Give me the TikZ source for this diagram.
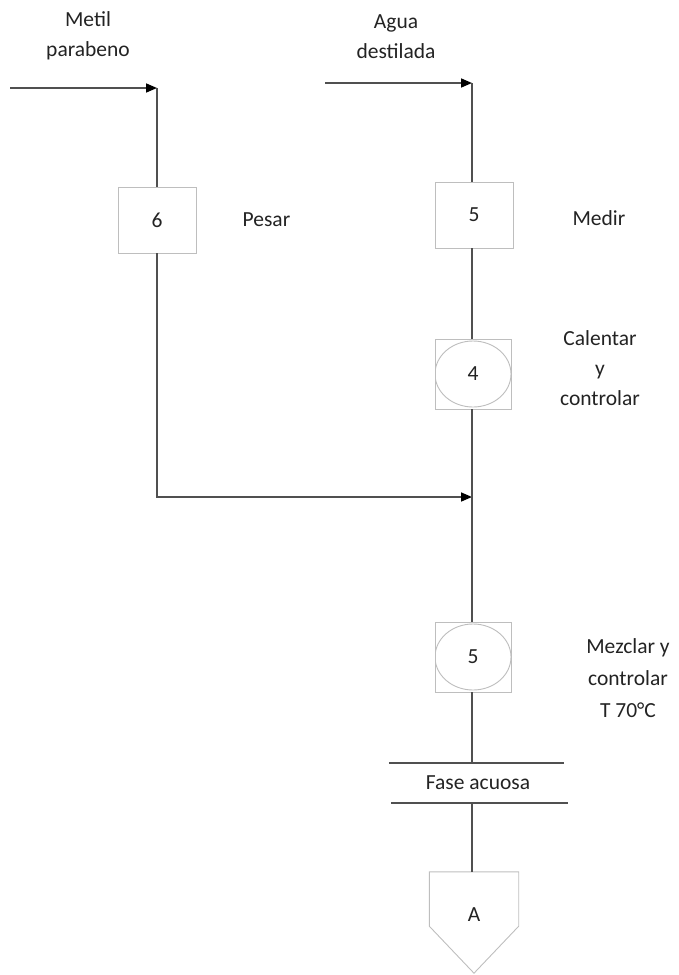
\documentclass[tikz,border=0pt]{standalone}
\usepackage{fontspec}
\setmainfont{Carlito}
\usetikzlibrary{arrows.meta,positioning,calc}
\definecolor{linegray}{RGB}{80,80,80}
\definecolor{boxgray}{RGB}{190,190,190}
\definecolor{txtgray}{RGB}{35,35,35}
\tikzset{
  opbox/.style={rectangle, draw=boxgray, line width=0.9pt, fill=white,
    minimum width=78pt, minimum height=66pt, inner sep=0pt,
    font=\fontsize{21.5}{30}\selectfont\color{txtgray}},
  ctrlbox/.style={opbox, minimum width=76pt, minimum height=70pt,
    path picture={\draw[boxgray, line width=0.9pt]
      (path picture bounding box.center) ellipse (38pt and 33pt);}},
  tank/.style={rectangle, minimum width=89pt, minimum height=54pt, inner sep=0pt},
  phase/.style={rectangle, minimum width=177pt, minimum height=40pt, inner sep=0pt,
    font=\fontsize{21.5}{30}\selectfont\color{txtgray}},
  lbl/.style={align=center, inner sep=0pt,
    font=\fontsize{21.5}{30}\selectfont\color{txtgray}},
  flow/.style={line width=1.6pt, color=linegray},
  arr/.style={flow, -{Triangle[length=11pt, width=9pt, color=black]}},
  edge/.style={line width=0.9pt, color=boxgray}
}
\begin{document}
\begin{tikzpicture}[x=1pt, y=-1pt]
\useasboundingbox (0,0) rectangle (678,975);

%% -- inputs ---------------------------------------------------------
\node[lbl] (metil) at (88,36) {Metil\\parabeno};
\node[lbl] (agua)  at (396,37) {Agua\\destilada};
\coordinate (metilin)     at (10,88);
\coordinate (metilcorner) at (157,88);
\coordinate (aguain)      at (325,83);
\coordinate (aguacorner)  at (472,83);

%% -- left column ----------------------------------------------------
\node[opbox] (m6) at (157,220) {6};
\node[lbl, right=46pt of m6] (pesar) {Pesar};

%% -- right column ---------------------------------------------------
\node[opbox]   (m5a) at (474,215) {5};
\node[ctrlbox] (m4)  at (473,374) {4};
\node[ctrlbox] (m5b) at (473,657) {5};
\node[phase]   (fase) at (478,783) {Fase acuosa};
\node[tank]    (tankA) at (474,899) {};
\node[lbl]     (tanklbl) at ($(tankA)+(0,16)$) {A};
\coordinate (merge) at (472,497);

\node[lbl] (medir)    at (599,218) {Medir};
\node[lbl] (calentar) at (600,368) {Calentar\\y\\controlar};
\node[lbl, font=\fontsize{21.5}{32}\selectfont\color{txtgray}]
  (mezclar) at (628,678) {Mezclar y\\controlar\\T 70°C};

%% -- tank outline ---------------------------------------------------
\draw[edge] (tankA.north west) -- (tankA.south west)
  -- ($(tankA.south)+(0,47)$) -- (tankA.south east)
  -- (tankA.north east) -- cycle;

%% -- phase bars -----------------------------------------------------
\draw[flow] ($(fase.north west)+(-0.5,0)$) -- ($(fase.north east)+(-3,0)$);
\draw[flow] ($(fase.south west)+(2,0)$) -- ($(fase.south east)+(1,0)$);

%% -- connectors -----------------------------------------------------
\draw[arr]  (metilin) -- (metilcorner);
\draw[flow] (metilcorner) -- (m6.north);
\draw[arr]  (m6.south) |- (merge);

\draw[arr]  (aguain) -- (aguacorner);
\draw[flow] (aguacorner) -- (aguacorner |- m5a.north);
\draw[flow] (aguacorner |- m5a.south) -- (aguacorner |- m4.north);
\draw[flow] (aguacorner |- m4.south) -- (aguacorner |- m5b.north);
\draw[flow] (aguacorner |- m5b.south) -- (aguacorner |- fase.north);
\draw[flow] (aguacorner |- fase.south) -- (aguacorner |- tankA.north);

\end{tikzpicture}
\end{document}
